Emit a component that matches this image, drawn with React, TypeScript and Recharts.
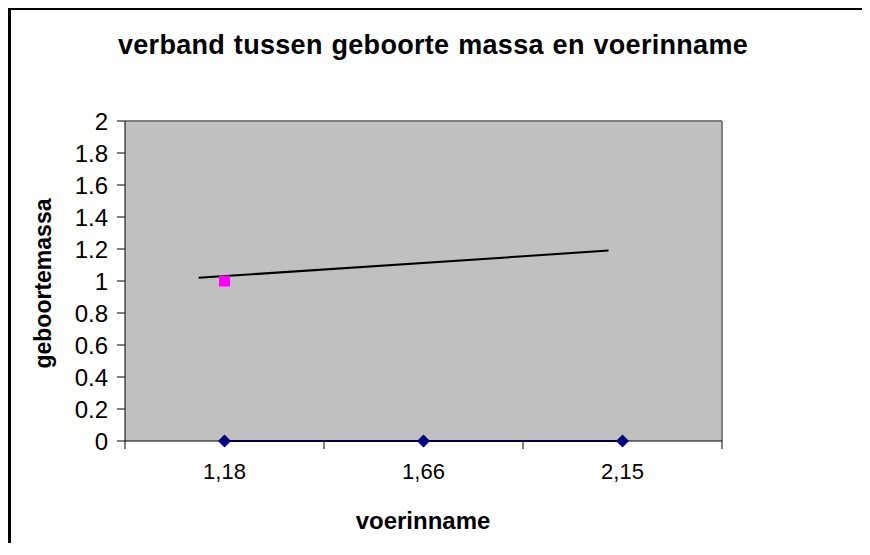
import React from "react";
import { ComposedChart, XAxis, YAxis, Line, Scatter, CartesianGrid, ReferenceLine } from "recharts";

const categories = ["1,18", "1,66", "2,15"];
const massaSeries = [0, 0, 0];
const pinkSeries = [1]; // only the first category has a value
const trendX = [0.87, 2.93];
const trendY = [1.02, 1.19];
const yTicks = [0, 0.2, 0.4, 0.6, 0.8, 1, 1.2, 1.4, 1.6, 1.8, 2];
const xTicks = [0.5, 1, 1.5, 2, 2.5, 3, 3.5];

const FONT = "'Liberation Sans', Arial, sans-serif";

const massaData = categories.map((c, i) => ({ x: i + 1, y: massaSeries[i] }));
const pinkData = pinkSeries.map((v, i) => ({ x: i + 1, y: v }));
const trendData = trendX.map((x, i) => ({ x, y: trendY[i] }));

const Diamond = (props: any) => {
  const { cx, cy, index } = props;
  if (cx == null || cy == null) return <g key={`d-${index}`} />;
  const r = 6.5;
  return (
    <polygon
      key={`d-${index}`}
      points={`${cx},${cy - r} ${cx + r},${cy} ${cx},${cy + r} ${cx - r},${cy}`}
      fill="#000080"
    />
  );
};

const PinkSquare = (props: any) => {
  const { cx, cy } = props;
  return <rect x={cx - 5.5} y={cy - 5.5} width={11} height={11} fill="#FF00FF" />;
};

// half-step ticks only get a tick mark, whole steps get the category label
const CategoryTick = (props: any) => {
  const { x, y, payload } = props;
  const v = payload.value;
  if (Number.isInteger(v)) {
    return (
      <text x={x} y={y + 38} textAnchor="middle" fill="#000" fontSize={22} fontFamily={FONT}>
        {categories[v - 1]}
      </text>
    );
  }
  return <line x1={x} x2={x} y1={y} y2={y + 8} stroke="#000" strokeWidth={1} />;
};

export default function App() {
  return (
    <div style={{ position: "relative", width: 862, height: 535, overflow: "hidden", fontFamily: FONT }}>
      <div
        style={{
          position: "absolute",
          left: 0,
          top: 0,
          width: 862,
          height: 535,
          borderTop: "2px solid #000",
          borderLeft: "3px solid #000",
          boxSizing: "border-box",
        }}
      />
      <div
        style={{
          position: "absolute",
          left: 0,
          top: 24,
          width: 850,
          textAlign: "center",
          fontSize: 27,
          lineHeight: "27px",
          fontWeight: "bold",
          letterSpacing: 0.3,
          wordSpacing: 1,
          whiteSpace: "nowrap",
        }}
      >
        verband tussen geboorte massa en voerinname
      </div>
      <div
        style={{
          position: "absolute",
          left: 315,
          top: 501,
          width: 200,
          textAlign: "center",
          fontSize: 24,
          lineHeight: "24px",
          fontWeight: "bold",
        }}
      >
        voerinname
      </div>
      <div
        style={{
          position: "absolute",
          left: 35 - 110,
          top: 275 - 11.5,
          width: 220,
          height: 23,
          textAlign: "center",
          fontSize: 23,
          lineHeight: "23px",
          fontWeight: "bold",
          transform: "rotate(-90deg)",
          whiteSpace: "nowrap",
        }}
      >
        geboortemassa
      </div>
      <ComposedChart
        width={862}
        height={535}
        margin={{ top: 113, right: 148, bottom: 42, left: 47 }}
        style={{ position: "absolute", left: 0, top: 0 }}
      >
        <CartesianGrid fill="#C0C0C0" horizontal={false} vertical={false} />
        <XAxis
          dataKey="x"
          type="number"
          domain={[0.5, 3.5]}
          ticks={xTicks}
          allowDataOverflow
          height={60}
          tickSize={0}
          tickMargin={0}
          tickLine={false}
          axisLine={{ stroke: "#000", strokeWidth: 1 }}
          tick={(p: any) => <CategoryTick key={`t-${p.index}`} {...p} />}
          interval={0}
        />
        <YAxis
          dataKey="y"
          type="number"
          domain={[0, 2]}
          ticks={yTicks}
          width={70}
          tickSize={8}
          tickMargin={9}
          interval={0}
          axisLine={{ stroke: "#000", strokeWidth: 1 }}
          tickLine={{ stroke: "#000", strokeWidth: 1 }}
          tick={{ fill: "#000", fontSize: 24, fontFamily: FONT }}
          tickFormatter={(v: number) => String(v)}
        />
        <ReferenceLine y={2} stroke="#808080" strokeWidth={2} />
        <ReferenceLine x={3.5} stroke="#808080" strokeWidth={2} />
        <Line
          data={trendData}
          dataKey="y"
          stroke="#000"
          strokeWidth={2}
          dot={false}
          activeDot={false}
          isAnimationActive={false}
        />
        <Line
          data={massaData}
          dataKey="y"
          stroke="#000080"
          strokeWidth={2}
          dot={Diamond}
          activeDot={false}
          isAnimationActive={false}
        />
        <Scatter data={pinkData} dataKey="y" shape={PinkSquare} isAnimationActive={false} />
      </ComposedChart>
    </div>
  );
}
